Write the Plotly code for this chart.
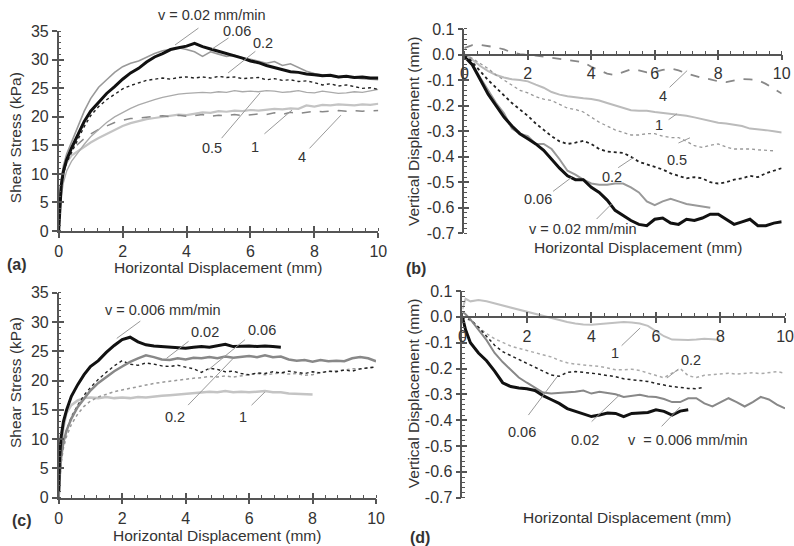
import plotly.graph_objects as go

# ---------------- (a) shear stress, first soil ----------------
XA = [0, 0.03, 0.08, 0.15, 0.25, 0.4, 0.6, 0.8, 1.0, 1.25, 1.5, 1.75, 2.0, 2.25, 2.5, 2.75,
      3.0, 3.25, 3.5, 3.75, 4.0, 4.25, 4.5, 4.75, 5.0, 5.25, 5.5, 5.75, 6.0, 6.25, 6.5, 6.75,
      7.0, 7.25, 7.5, 7.75, 8.0, 8.25, 8.5, 8.75, 9.0, 9.25, 9.5, 9.75, 10.0]
A_002 = [0, 4, 8, 10.5, 12.5, 14.5, 17, 19.2, 21, 22.6, 24.1, 25.3, 26.6, 27.7, 28.5, 29.6,
         30.5, 31.1, 31.8, 32.1, 32.4, 32.9, 32.3, 31.9, 31.5, 31.2, 30.7, 30.3, 29.8, 29.5, 29.0, 28.6,
         28.3, 27.9, 27.8, 27.5, 27.4, 27.2, 27.3, 27.0, 27.1, 26.9, 27.0, 26.8, 26.8]
A_006 = [0, 5, 9, 11.5, 13.5, 15.6, 18.5, 21.0, 23.2, 25.2, 26.5, 27.8, 28.8, 29.4, 29.8, 30.5,
         31.1, 31.6, 31.9, 32.1, 31.8, 31.4, 30.6, 31.4, 31.0, 30.6, 30.8, 30.3, 30.1, 29.8, 29.4, 29.7,
         29.0, 29.3, 28.6, 28.0, 27.6, 27.4, 27.1, 26.9, 27.0, 26.8, 26.7, 26.6, 26.5]
A_02 = [0, 4, 7.5, 10, 12, 13.8, 16, 18.3, 20.2, 21.8, 23.0, 24.0, 24.9, 25.5, 26.0, 26.4,
        26.6, 26.8, 26.6, 26.9, 27.0, 26.8, 27.0, 26.8, 27.1, 26.9, 27.0, 26.7, 26.8, 26.9, 26.5, 26.7,
        26.4, 26.5, 26.2, 26.3, 26.0, 25.6, 25.8, 25.4, 25.6, 25.3, 25.0, 25.1, 24.8]
A_05 = [0, 3, 6, 8.5, 10.5, 12.2, 13.8, 15.2, 16.5, 17.8, 19.0, 20.0, 20.8, 21.5, 22.1, 22.6,
        23.0, 23.4, 23.7, 24.0, 24.1, 24.2, 24.3, 24.2, 24.4, 24.3, 24.6, 24.4, 24.5, 24.4, 24.6, 24.5,
        24.3, 24.4, 24.6, 24.3, 24.2, 24.5, 24.3, 24.1, 24.2, 24.4, 24.3, 24.6, 24.8]
A_1 = [0, 4, 8, 10.5, 12, 13.2, 14.0, 14.8, 15.5, 16.3, 17.0, 17.8, 18.4, 18.9, 19.3, 19.6,
       19.8, 20.0, 20.1, 20.4, 20.3, 20.6, 20.8, 20.7, 21.0, 20.9, 21.1, 21.0, 21.2, 21.1, 21.3, 21.4,
       21.3, 21.5, 21.4, 22.0, 21.8, 22.1, 22.0, 22.2, 22.1, 22.0, 22.2, 22.1, 22.3]
A_4 = [0, 5, 9, 11, 12.5, 14, 15.2, 16.2, 17.0, 17.8, 18.4, 19.0, 19.4, 19.7, 19.8, 20.0,
       20.1, 20.2, 20.0, 20.3, 20.1, 20.2, 20.4, 20.1, 20.3, 20.2, 20.4, 20.2, 20.3, 20.5, 20.4, 20.7,
       20.4, 20.8, 20.6, 20.8, 21.0, 20.9, 21.0, 21.1, 21.0, 21.1, 21.0, 21.1, 21.1]

# ---------------- (b) vertical displacement, first soil ----------------
XB = [0, 0.1, 0.25, 0.5, 0.75, 1.0, 1.25, 1.5, 1.75, 2.0, 2.25, 2.5, 2.75, 3.0, 3.25, 3.5,
      3.75, 4.0, 4.25, 4.5, 4.75, 5.0, 5.25, 5.5, 5.75, 6.0, 6.25, 6.5, 6.75, 7.0, 7.25, 7.5,
      7.75, 8.0, 8.25, 8.5, 8.75, 9.0, 9.25, 9.5, 9.75, 10.0]
B_002 = [-0.01, -0.02, -0.04, -0.1, -0.155, -0.2, -0.245, -0.28, -0.31, -0.33, -0.35, -0.375, -0.41, -0.445, -0.475, -0.49,
         -0.49, -0.52, -0.54, -0.57, -0.61, -0.63, -0.65, -0.665, -0.67, -0.645, -0.64, -0.66, -0.665, -0.645, -0.65, -0.64,
         -0.625, -0.625, -0.645, -0.665, -0.655, -0.645, -0.67, -0.67, -0.66, -0.655]
B_006 = [-0.01, -0.02, -0.04, -0.09, -0.14, -0.19, -0.23, -0.29, -0.31, -0.32, -0.35, -0.35, -0.37, -0.41, -0.455, -0.47,
         -0.49, -0.505, -0.51, -0.51, -0.505, -0.505, -0.52, -0.54, -0.575, -0.59, -0.575, -0.565, -0.575, -0.585, -0.59, -0.595,
         -0.6]
B_02 = [-0.005, -0.01, -0.03, -0.065, -0.1, -0.13, -0.16, -0.19, -0.215, -0.24, -0.27, -0.295, -0.32, -0.34, -0.35, -0.345,
        -0.338, -0.35, -0.37, -0.38, -0.383, -0.385, -0.4, -0.42, -0.43, -0.44, -0.45, -0.465, -0.475, -0.485, -0.48, -0.485,
        -0.5, -0.505, -0.5, -0.49, -0.485, -0.475, -0.48, -0.465, -0.455, -0.445]
B_05 = [0, -0.005, -0.015, -0.035, -0.055, -0.08, -0.1, -0.12, -0.14, -0.15, -0.165, -0.175, -0.18, -0.195, -0.21, -0.215,
        -0.225, -0.245, -0.265, -0.28, -0.295, -0.305, -0.315, -0.315, -0.31, -0.31, -0.32, -0.325, -0.325, -0.34, -0.357, -0.364,
        -0.355, -0.35, -0.362, -0.37, -0.37, -0.37, -0.373, -0.375, -0.377]
B_1 = [0, -0.005, -0.02, -0.045, -0.065, -0.08, -0.09, -0.097, -0.1, -0.105, -0.118, -0.13, -0.147, -0.157, -0.163, -0.168,
       -0.171, -0.174, -0.18, -0.19, -0.2, -0.21, -0.218, -0.22, -0.22, -0.225, -0.228, -0.232, -0.236, -0.24, -0.246, -0.254,
       -0.262, -0.267, -0.27, -0.275, -0.28, -0.29, -0.292, -0.296, -0.3, -0.305]
B_4 = [0.025, 0.03, 0.037, 0.038, 0.033, 0.028, 0.02, 0.008, 0.002, 0.0, -0.004, -0.008, -0.012, -0.016, -0.02, -0.024,
       -0.03, -0.048, -0.062, -0.075, -0.08, -0.07, -0.058, -0.062, -0.07, -0.068, -0.06, -0.055, -0.062, -0.074, -0.083, -0.092,
       -0.097, -0.105, -0.108, -0.102, -0.096, -0.097, -0.1, -0.115, -0.135, -0.153]

# ---------------- (c) shear stress, second soil ----------------
XC = XA
C_0006 = [1, 7, 10.5, 13, 15, 17.3, 19.3, 21.0, 22.4, 23.4, 24.8, 26.0, 27.0, 27.4, 26.6, 26.1,
          25.9, 25.8, 25.6, 25.5, 25.5, 25.7, 25.8, 25.7, 26.0, 26.2, 25.8, 25.9, 25.9, 25.8, 25.9, 25.8,
          25.7]
C_002 = [0, 4, 7, 9.5, 11.5, 13.5, 15.5, 17.0, 18.3, 19.6, 20.6, 21.6, 22.4, 23.2, 23.8, 24.3,
         24.0, 23.6, 23.5, 23.8, 23.6, 23.9, 23.8, 24.0, 23.8, 24.1, 23.9, 24.0, 24.2, 24.0, 24.3, 24.0,
         24.1, 23.6, 23.4, 23.5, 23.2, 23.5, 23.3, 23.4, 23.3, 23.8, 24.0, 23.8, 23.3]
C_006 = [0, 4, 7, 9.5, 11.5, 13.8, 15.8, 17.5, 18.8, 20.2, 21.4, 22.5, 23.4, 22.8, 22.6, 23.0,
         22.8, 22.5, 22.4, 22.6, 22.3, 22.0, 21.4, 22.1, 21.9, 21.5, 21.6, 21.2, 21.0, 21.3, 21.2, 21.5,
         21.3, 21.6, 21.4, 21.2, 21.5, 21.3, 21.6, 21.5, 21.8, 21.6, 22.0, 22.1, 22.3]
C_02 = [0, 3, 6, 8.5, 10.5, 12.5, 14.3, 15.6, 16.5, 17.2, 17.7, 18.1, 18.4, 18.7, 19.0, 19.3,
        19.5, 19.7, 19.9, 20.0, 20.2, 20.4, 20.5, 20.7, 20.6, 20.8, 20.6, 20.8, 21.0, 21.2, 21.0, 21.2,
        21.3, 21.1, 21.2, 20.9, 21.0, 21.4, 21.5, 21.6, 21.8, 22.0, 22.0, 22.2, 22.4]
C_1 = [0, 4, 8, 12, 14.5, 15.8, 16.6, 17.0, 17.1, 17.0, 17.2, 17.0, 17.1, 17.0, 17.2, 17.1,
       17.3, 17.4, 17.5, 17.6, 17.8, 17.9, 18.0, 18.1, 18.0, 18.2, 18.0, 18.1, 18.0, 18.1, 18.2, 18.0,
       18.0, 17.8, 17.7, 17.7, 17.6]

# ---------------- (d) vertical displacement, second soil ----------------
XD = XB
D_0006 = [0, -0.05, -0.1, -0.14, -0.17, -0.21, -0.255, -0.27, -0.275, -0.278, -0.285, -0.305, -0.32, -0.335, -0.355, -0.365,
          -0.378, -0.386, -0.38, -0.372, -0.374, -0.386, -0.374, -0.372, -0.37, -0.36, -0.366, -0.38, -0.365, -0.36]
D_002 = [0.02, 0.01, -0.01, -0.05, -0.09, -0.14, -0.175, -0.205, -0.235, -0.255, -0.275, -0.293, -0.297, -0.295, -0.293, -0.29,
         -0.285, -0.297, -0.29, -0.295, -0.3, -0.31, -0.305, -0.302, -0.308, -0.31, -0.318, -0.33, -0.33, -0.315, -0.315, -0.335,
         -0.347, -0.33, -0.315, -0.33, -0.347, -0.33, -0.31, -0.32, -0.34, -0.354]
D_006 = [0, -0.005, -0.01, -0.04, -0.075, -0.11, -0.135, -0.15, -0.165, -0.18, -0.195, -0.21, -0.225, -0.23, -0.215, -0.212,
         -0.214, -0.218, -0.222, -0.226, -0.232, -0.24, -0.244, -0.247, -0.25, -0.258, -0.265, -0.27, -0.273, -0.277, -0.278, -0.272]
D_02 = [0, -0.005, -0.015, -0.04, -0.065, -0.085, -0.1, -0.113, -0.122, -0.13, -0.137, -0.145, -0.155, -0.168, -0.178, -0.183,
        -0.186, -0.19, -0.192, -0.198, -0.205, -0.205, -0.203, -0.208, -0.218, -0.228, -0.236, -0.218, -0.2, -0.228, -0.235, -0.226,
        -0.224, -0.22, -0.218, -0.222, -0.218, -0.216, -0.22, -0.215, -0.212, -0.218]
D_1 = [0.03, 0.07, 0.06, 0.065, 0.06, 0.052, 0.043, 0.035, 0.028, 0.02, 0.012, 0.004, -0.006, -0.014, -0.02, -0.026,
       -0.03, -0.031, -0.028, -0.025, -0.022, -0.02, -0.022, -0.026, -0.035, -0.055, -0.075, -0.088, -0.09, -0.09, -0.088, -0.085,
       -0.087, -0.09]

SHEAR_TICKS = [0, 5, 10, 15, 20, 25, 30, 35]
VERT_TICKS = [0.1, 0.0, -0.1, -0.2, -0.3, -0.4, -0.5, -0.6, -0.7]
VERT_TEXT = ["0.1", "0.0", "-0.1", "-0.2", "-0.3", "-0.4", "-0.5", "-0.6", "-0.7"]

FONT = "Liberation Sans, Arial, sans-serif"
TXT = "#333333"
AXC = "#555555"
TICK_SIZE = 16
TITLE_SIZE = 15.5
LABEL_SIZE = 14.5

fig = go.Figure()


def line(x, y, sub, color, width, dash="solid"):
    fig.add_trace(go.Scatter(x=x[:len(y)], y=y, xaxis="x" + sub, yaxis="y" + sub, mode="lines",
                             line=dict(color=color, width=width, dash=dash),
                             showlegend=False, hoverinfo="skip"))


# panel a
line(XA, A_1, "", "#c4c4c4", 2.2)
line(XA, A_4, "", "#888888", 1.5, "dash")
line(XA, A_05, "", "#aaaaaa", 1.3)
line(XA, A_02, "", "#222222", 1.4, "dot")
line(XA, A_006, "", "#999999", 1.6)
line(XA, A_002, "", "#111111", 3)
# panel b
line(XB, B_4, "2", "#888888", 1.8, "dash")
line(XB, B_1, "2", "#bbbbbb", 2)
line(XB, B_05, "2", "#999999", 1.3, "dot")
line(XB, B_02, "2", "#222222", 1.8, "dot")
line(XB, B_006, "2", "#999999", 2)
line(XB, B_002, "2", "#111111", 3)
# panel c
line(XC, C_1, "3", "#c4c4c4", 2.5)
line(XC, C_02, "3", "#999999", 1.5, "dot")
line(XC, C_006, "3", "#222222", 1.4, "dot")
line(XC, C_002, "3", "#888888", 2.5)
line(XC, C_0006, "3", "#111111", 3)
# panel d
line(XD, D_1, "4", "#c0c0c0", 2)
line(XD, D_02, "4", "#aaaaaa", 1.5, "dot")
line(XD, D_006, "4", "#222222", 1.5, "dot")
line(XD, D_002, "4", "#888888", 2)
line(XD, D_0006, "4", "#111111", 3)

# empty traces so the overlay axes (inner half of crossing ticks) get drawn
for k in ("5", "6", "7", "8"):
    fig.add_trace(go.Scatter(x=[], y=[], xaxis="x" + k, yaxis="y" + k, showlegend=False))

panels = {
    "": dict(xd=[0.0739, 0.4765], yd=[0.577, 0.9427], yr=[0, 35], vert=False),
    "2": dict(xd=[0.5848, 0.9845], yd=[0.5727, 0.9469], yr=[-0.7, 0.1], vert=True),
    "3": dict(xd=[0.0739, 0.4736], yd=[0.0885, 0.4639], yr=[0, 35], vert=False),
    "4": dict(xd=[0.5823, 0.9887], yd=[0.0885, 0.467], yr=[-0.7, 0.1], vert=True),
}
overlay = {"": "5", "2": "6", "3": "7", "4": "8"}

layout = dict(width=794, height=546, margin=dict(l=0, r=0, t=0, b=0, autoexpand=False),
              paper_bgcolor="white", plot_bgcolor="white",
              font=dict(family=FONT, color=TXT, size=15), showlegend=False)

for sub, p in panels.items():
    y0, y1 = p["yd"]
    lo, hi = p["yr"]
    xpos = y0 + (0 - lo) / (hi - lo) * (y1 - y0)
    xa = dict(domain=p["xd"], range=[0, 10], dtick=2, tick0=0, showgrid=False, zeroline=False,
              showline=True, linecolor=AXC, linewidth=1.5, ticks="outside", ticklen=5,
              tickcolor=AXC, tickwidth=1.5, tickfont=dict(size=TICK_SIZE), automargin=False,
              ticklabeloverflow="allow",
              minor=dict(dtick=0.4, ticks="inside", ticklen=3, tickcolor=AXC, tickwidth=1))
    ya = dict(domain=p["yd"], range=p["yr"], showgrid=False, zeroline=False, showline=True,
              linecolor=AXC, linewidth=1.5, ticks="outside", ticklen=5, tickcolor=AXC,
              tickwidth=1.5, tickfont=dict(size=TICK_SIZE), automargin=False,
              ticklabeloverflow="allow")
    if p["vert"]:
        xa.update(anchor="free", position=xpos)
        ya.update(anchor="x" + sub, tickvals=VERT_TICKS, ticktext=VERT_TEXT,
                  minor=dict(dtick=0.02, ticks="inside", ticklen=3, tickcolor=AXC, tickwidth=1))
    else:
        xa.update(anchor="y" + sub)
        ya.update(anchor="x" + sub, tickvals=SHEAR_TICKS,
                  minor=dict(dtick=1, ticks="inside", ticklen=3, tickcolor=AXC, tickwidth=1))
    layout["xaxis" + sub] = xa
    layout["yaxis" + sub] = ya
    o = overlay[sub]
    xo = dict(overlaying="x" + sub, range=[0, 10], dtick=2, tick0=0, showgrid=False, zeroline=False,
              showline=False, ticks="inside", ticklen=5, tickcolor=AXC, tickwidth=1.5,
              showticklabels=False, automargin=False)
    if p["vert"]:
        xo.update(anchor="free", position=xpos)
    else:
        xo.update(anchor="y" + sub)
    yo = dict(overlaying="y" + sub, range=p["yr"], showgrid=False, zeroline=False, showline=False,
              ticks="inside", ticklen=5, tickcolor=AXC, tickwidth=1.5, showticklabels=False,
              anchor="x" + sub, side="left", automargin=False,
              tickvals=VERT_TICKS if p["vert"] else SHEAR_TICKS)
    layout["xaxis" + o] = xo
    layout["yaxis" + o] = yo

fig.update_layout(**layout)

# curve labels: (panel, text, text x, text y, leader tail x, tail y, leader head x, head y)
LABELS = [
    ("", "v = 0.02 mm/min", 4.80, 37.85, 4.42, 35.75, 3.64, 32.6),
    ("", "0.06", 5.58, 35.05, 5.36, 34.0, 4.80, 31.9),
    ("", "0.2", 6.39, 32.95, 6.20, 31.7, 5.30, 27.7),
    ("", "0.5", 4.80, 14.55, 5.05, 15.95, 6.30, 24.2),
    ("", "1", 6.14, 14.7, 6.39, 16.8, 7.30, 21.2),
    ("", "4", 7.61, 13.0, 7.80, 14.2, 8.83, 20.3),
    ("2", "4", 6.26, -0.161, 6.42, -0.134, 7.02, -0.063),
    ("2", "1", 6.13, -0.275, 6.39, -0.259, 6.70, -0.232),
    ("2", "0.5", 6.69, -0.413, 6.70, -0.349, 7.11, -0.326),
    ("2", "0.2", 4.64, -0.481, 4.80, -0.447, 5.32, -0.404),
    ("2", "0.06", 2.33, -0.565, 2.75, -0.54, 3.38, -0.481),
    ("2", "v = 0.02 mm/min", 3.75, -0.683, 4.12, -0.65, 4.64, -0.585),
    ("3", "v = 0.006 mm/min", 3.30, 32.05, 2.62, 30.34, 1.83, 27.2),
    ("3", "0.02", 4.61, 28.34, 4.14, 26.9, 3.40, 23.8),
    ("3", "0.06", 6.42, 28.63, 5.92, 27.2, 4.71, 21.8),
    ("3", "0.2", 3.67, 13.83, 4.03, 15.54, 5.50, 23.8),
    ("3", "1", 5.82, 13.83, 6.03, 15.54, 6.50, 18.05),
    ("4", "1", 4.73, -0.14, 4.89, -0.117, 5.51, -0.043),
    ("4", "0.2", 7.08, -0.167, 6.74, -0.198, 6.34, -0.237),
    ("4", "0.06", 1.84, -0.445, 2.0, -0.388, 2.93, -0.233),
    ("4", "0.02", 3.80, -0.477, 3.96, -0.411, 4.89, -0.30),
    ("4", "v\u00a0 = 0.006 mm/min", 7.0, -0.477, 6.13, -0.43, 6.75, -0.349),
]
for sub, text, tx, ty, lx0, ly0, lx1, ly1 in LABELS:
    p = panels[sub]
    lo, hi = p["yr"]
    if lo <= ty <= hi:
        yref, yy = "y" + sub, ty
    else:
        # Plotly hides data-anchored annotations outside the axis range, so go to paper units
        y0, y1 = p["yd"]
        yref, yy = "paper", y0 + (ty - lo) / (hi - lo) * (y1 - y0)
    fig.add_annotation(x=tx, y=yy, xref="x" + sub, yref=yref, text=text, showarrow=False,
                       xanchor="center", yanchor="middle", font=dict(size=LABEL_SIZE, color=TXT))
    fig.add_annotation(x=lx1, y=ly1, ax=lx0, ay=ly0, xref="x" + sub, yref="y" + sub,
                       axref="x" + sub, ayref="y" + sub, text=" ", font=dict(size=1),
                       showarrow=True, arrowhead=0, arrowwidth=1, arrowcolor="#999999")

# axis titles and panel letters (paper coordinates)
TITLES = [
    ("Shear Stress (kPa)", 0.0189, 0.747, -90),
    ("Horizontal Displacement (mm)", 0.2746, 0.5095, 0),
    ("Vertical Displacement (mm)", 0.5202, 0.760, -90),
    ("Horizontal Displacement (mm)", 0.8035, 0.5476, 0),
    ("Shear Stress (kPa)", 0.0189, 0.2985, -90),
    ("Horizontal Displacement (mm)", 0.2733, 0.019, 0),
    ("Vertical Displacement (mm)", 0.5202, 0.280, -90),
    ("Horizontal Displacement (mm)", 0.7897, 0.0513, 0),
]
for text, px, py, ang in TITLES:
    fig.add_annotation(x=px, y=py, xref="paper", yref="paper", text=text, showarrow=False,
                       xanchor="center", yanchor="middle", textangle=ang,
                       font=dict(size=TITLE_SIZE, color=TXT))

LETTERS = [("(a)", 0.0214, 0.515), ("(b)", 0.524, 0.509), ("(c)", 0.0277, 0.0458), ("(d)", 0.529, 0.0147)]
for text, px, py in LETTERS:
    fig.add_annotation(x=px, y=py, xref="paper", yref="paper", text="<b>" + text + "</b>",
                       xanchor="center", yanchor="middle", showarrow=False,
                       font=dict(size=16, color=TXT))

fig.write_html("out.html", config={"displayModeBar": False},
               post_script="document.body.style.margin = '0';")
